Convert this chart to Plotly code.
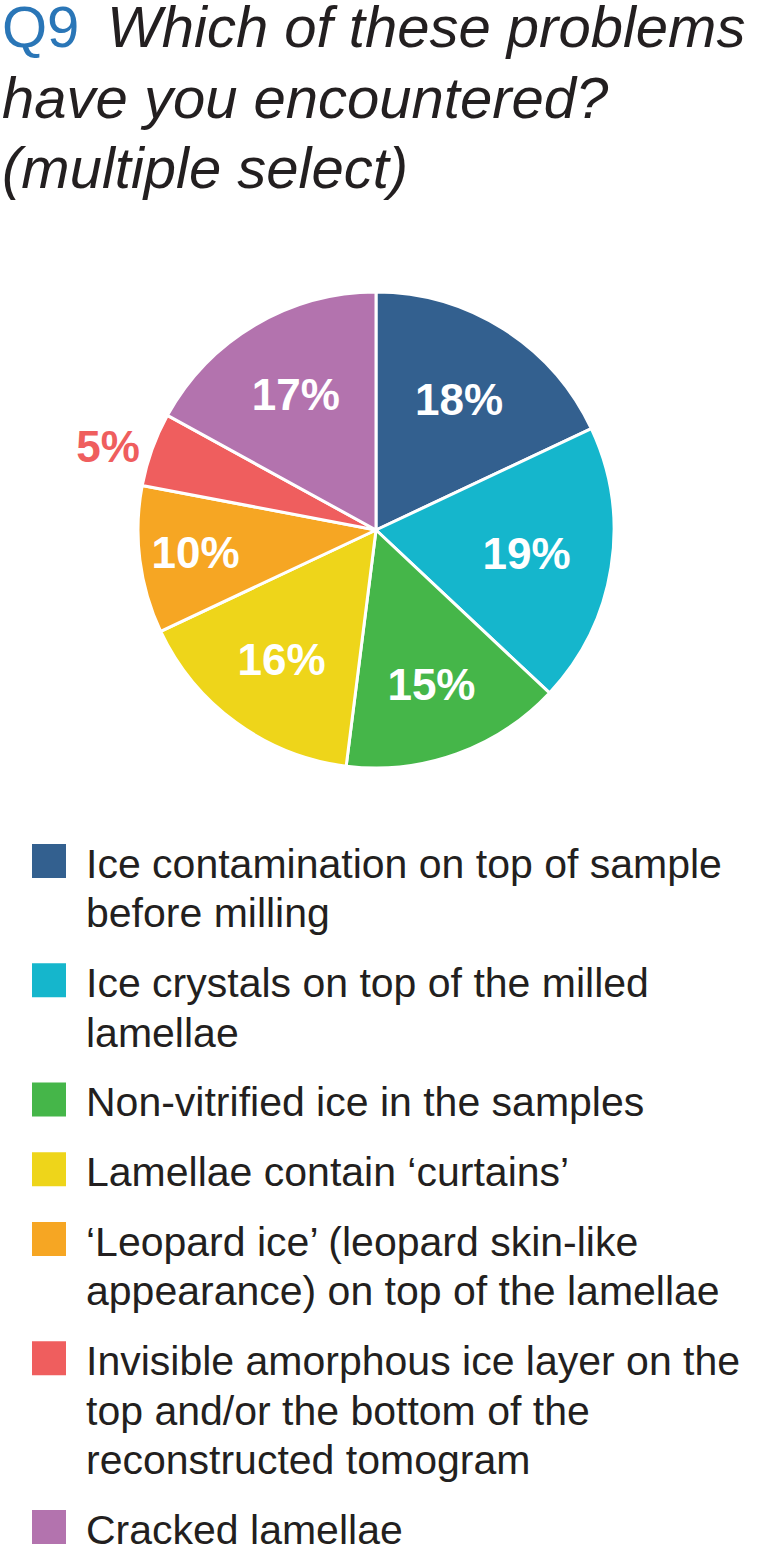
import plotly.graph_objects as go

# Daten
labels = [
    "Ice contamination on top of sample<br>before milling",
    "Ice crystals on top of the milled<br>lamellae",
    "Non-vitrified ice in the samples",
    "Lamellae contain \u2018curtains\u2019",
    "\u2018Leopard ice\u2019 (leopard skin-like<br>appearance) on top of the lamellae",
    "Invisible amorphous ice layer on the<br>top and/or the bottom of the<br>reconstructed tomogram",
    "Cracked lamellae",
]
values = [18, 19, 15, 16, 10, 5, 17]
colors = ["#33608F", "#15B6CC", "#45B649", "#EED51A", "#F6A623", "#EF5E5E", "#B373AE"]
title_lines = [
    "<span style='color:#2A76B7'>Q9</span>\u2009 <i>Which of these problems</i>",
    "<i>have you encountered?</i>",
    "<i>(multiple select)</i>",
]

W, H = 765, 1547
FONT = "Liberation Sans, Arial, sans-serif"


def px(x):
    return x / W


def py(y):
    return 1 - y / H


fig = go.Figure()

# Kreisdiagramm
fig.add_trace(go.Pie(
    labels=labels,
    values=values,
    sort=False,
    direction="clockwise",
    rotation=0,
    marker=dict(colors=colors, line=dict(color="white", width=3)),
    texttemplate="%{value}%",
    textposition=["outside" if v < 8 else "inside" for v in values],
    insidetextorientation="horizontal",
    textfont=dict(family=FONT, size=44, weight="bold",
                  color=[c if v < 8 else "white" for v, c in zip(values, colors)]),
    domain=dict(x=[px(138), px(614)], y=[py(768), py(292)]),
    showlegend=False,
    hoverinfo="label+percent",
))

# Titel (eine Annotation pro Zeile)
t_size = 58
for i, t in enumerate(title_lines):
    base = 47 + i * 70.5
    fig.add_annotation(x=px(0), y=py(base - 0.3465 * t_size), xref="paper", yref="paper",
                       xanchor="left", yanchor="middle", align="left",
                       text=t, showarrow=False,
                       font=dict(family=FONT, size=t_size, color="#231F20"))

# Legende als Kästchen + Text
l_size = 41
line_h = 49.5
item_step = 69.75
base = 878
for lab, col in zip(labels, colors):
    lines = lab.split("<br>")
    fig.add_shape(type="rect", xref="paper", yref="paper",
                  x0=px(32), x1=px(66), y0=py(base), y1=py(base - 34),
                  fillcolor=col, line=dict(width=0))
    for j, ln in enumerate(lines):
        b = base + j * line_h
        fig.add_annotation(x=px(84), y=py(b - 0.3465 * l_size), xref="paper", yref="paper",
                           xanchor="left", yanchor="middle", align="left",
                           text=ln, showarrow=False,
                           font=dict(family=FONT, size=l_size, color="#231F20"))
    base += (len(lines) - 1) * line_h + item_step

fig.update_layout(
    width=W, height=H,
    margin=dict(l=0, r=0, t=0, b=0),
    paper_bgcolor="white",
    plot_bgcolor="white",
)

fig.write_html("out.html", config={"displayModeBar": False},
               post_script="document.body.style.margin='0';")
